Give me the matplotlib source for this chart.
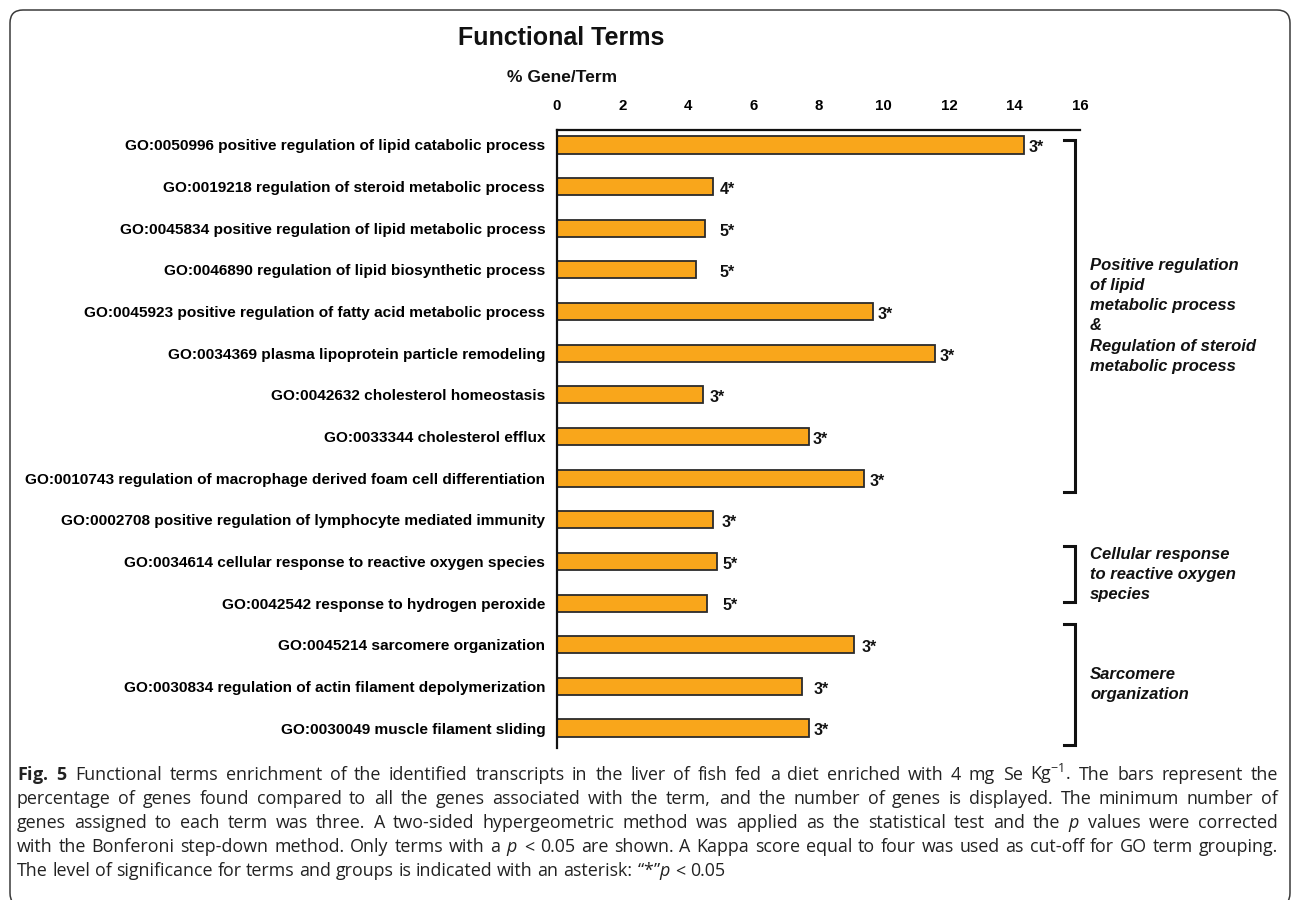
import numpy as np
import matplotlib
matplotlib.use("Agg")
import matplotlib.pyplot as plt
from matplotlib.lines import Line2D
from matplotlib.patches import FancyBboxPatch
from matplotlib import transforms

# ---------------- data ----------------
go_ids = [
    "GO:0050996", "GO:0019218", "GO:0045834", "GO:0046890", "GO:0045923",
    "GO:0034369", "GO:0042632", "GO:0033344", "GO:0010743", "GO:0002708",
    "GO:0034614", "GO:0042542", "GO:0045214", "GO:0030834", "GO:0030049",
]
term_names = [
    "positive regulation of lipid catabolic process",
    "regulation of steroid metabolic process",
    "positive regulation of lipid metabolic process",
    "regulation of lipid biosynthetic process",
    "positive regulation of fatty acid metabolic process",
    "plasma lipoprotein particle remodeling",
    "cholesterol homeostasis",
    "cholesterol efflux",
    "regulation of macrophage derived foam cell differentiation",
    "positive regulation of lymphocyte mediated immunity",
    "cellular response to reactive oxygen species",
    "response to hydrogen peroxide",
    "sarcomere organization",
    "regulation of actin filament depolymerization",
    "muscle filament sliding",
]
pct_genes = [14.29, 4.77, 4.53, 4.25, 9.68, 11.55, 4.48, 7.70, 9.38,
             4.77, 4.91, 4.60, 9.10, 7.51, 7.70]
gene_counts = [3, 4, 5, 5, 3, 3, 3, 3, 3, 3, 5, 5, 3, 3, 3]
x_ticks = [0, 2, 4, 6, 8, 10, 12, 14, 16]

# groups: (first term index, last term index, group name)
group_first = [0, 10, 12]
group_last = [8, 11, 14]
group_names = [
    "Positive regulation\nof lipid\nmetabolic process\n&\nRegulation of steroid\nmetabolic process",
    "Cellular response\nto reactive oxygen\nspecies",
    "Sarcomere\norganization",
]

caption_lines = [
    r"$\mathbf{Fig.}$ $\mathbf{5}$ Functional terms enrichment of the identified transcripts in the liver of fish fed a diet enriched with 4 mg Se Kg$^{-1}$. The bars represent the",
    "percentage of genes found compared to all the genes associated with the term, and the number of genes is displayed. The minimum number of",
    r"genes assigned to each term was three. A two-sided hypergeometric method was applied as the statistical test and the $\mathit{p}$ values were corrected",
    r"with the Bonferoni step-down method. Only terms with a $\mathit{p}$ < 0.05 are shown. A Kappa score equal to four was used as cut-off for GO term grouping.",
    r"The level of significance for terms and groups is indicated with an asterisk: “*”$\mathit{p}$ < 0.05",
]

# ---------------- style ----------------
plt.rcParams["font.family"] = ["Liberation Sans", "DejaVu Sans"]
plt.rcParams["mathtext.fontset"] = "custom"
plt.rcParams["mathtext.rm"] = "Open Sans"
plt.rcParams["mathtext.it"] = "Open Sans:italic"
plt.rcParams["mathtext.bf"] = "Open Sans:bold"

W, H = 1292, 900
fig = plt.figure(figsize=(W / 100, H / 100), dpi=100)
fig.patch.set_facecolor("white")
renderer = fig.canvas.get_renderer()


def fx(px):
    return px / W


def fy(py):
    return 1 - py / H


# rounded frame around the panel
frame = FancyBboxPatch((0.10, -0.06), 12.80, 8.96,
                       boxstyle="round,pad=0,rounding_size=0.13",
                       transform=fig.dpi_scale_trans, facecolor="none",
                       edgecolor="#3a3a3a", linewidth=1.1, zorder=0)
fig.patches.append(frame)

# ---------------- bar chart ----------------
ax = fig.add_axes([fx(557), fy(748), fx(1080) - fx(557), (748 - 130) / H])
ypos = np.arange(len(pct_genes))
ax.barh(ypos, pct_genes, height=0.41, color="#F9A61B",
        edgecolor="#2b2b2b", linewidth=1.3, zorder=2)
ax.set_xlim(0, 16)
ax.set_ylim(14.48, -0.36)

ax.xaxis.tick_top()
ax.set_xticks(x_ticks)
ax.set_xticklabels([str(t) for t in x_ticks], fontsize=10.8, fontweight="bold")
ax.tick_params(axis="x", length=0, pad=12.5)
labels = [f"{g} {t}" for g, t in zip(go_ids, term_names)]
ax.set_yticks(ypos)
ax.set_yticklabels(labels, fontsize=11.1, fontweight="bold")
ax.tick_params(axis="y", length=0, pad=8.5)

for side in ("right", "bottom"):
    ax.spines[side].set_visible(False)
for side in ("top", "left"):
    ax.spines[side].set_linewidth(1.6)
    ax.spines[side].set_color("#111111")

# gene-count annotations next to each bar
label_gap = [0.14, 0.20, 0.45, 0.73, 0.13, 0.16, 0.19, 0.11, 0.18,
             0.28, 0.15, 0.46, 0.21, 0.33, 0.14]
for i, (v, n) in enumerate(zip(pct_genes, gene_counts)):
    ax.text(v + label_gap[i], i + 0.07, f"{n}*", ha="left", va="center",
            fontsize=11.5, fontweight="bold", color="#111111")

# ---------------- group brackets ----------------
btrans = transforms.blended_transform_factory(fig.transFigure, ax.transData)
bracket_pad = [(0.12, 0.33), (0.37, -0.02), (0.50, 0.41)]
x_in, x_out = fx(1064), fx(1075)
for (i0, i1, name), (p0, p1) in zip(zip(group_first, group_last, group_names), bracket_pad):
    y0, y1 = i0 - p0, i1 + p1
    fig.lines.append(Line2D([x_in, x_out, x_out, x_in], [y0, y0, y1, y1],
                            transform=btrans, color="#111111", linewidth=2.2,
                            solid_joinstyle="miter"))
    fig.text(fx(1090), (y0 + y1) / 2, name, transform=btrans, ha="left",
             va="center", fontsize=12.0, fontweight="bold", fontstyle="italic",
             linespacing=1.42, color="#111111")

# ---------------- titles ----------------
fig.text(fx(561), fy(38), "Functional Terms", ha="center", va="center",
         fontsize=18, fontweight="bold", color="#111111")
fig.text(fx(562), fy(78), "% Gene/Term", ha="center", va="center",
         fontsize=12.5, fontweight="bold", color="#111111")

# ---------------- caption (justified) ----------------
cap_font = dict(fontsize=12.9, family=["Open Sans", "DejaVu Sans"],
                color="#222222", ha="left", va="baseline")
x_left, x_right = 17, 1278


def text_width(s):
    t = fig.text(0, 0, s, **cap_font)
    w = t.get_window_extent(renderer).width
    t.remove()
    return w


space_w = text_width("a a") - text_width("aa")

for k, line in enumerate(caption_lines):
    words = line.split(" ")
    widths = [text_width(w) for w in words]
    last = k == len(caption_lines) - 1
    if last or len(words) < 2:
        gap = space_w
    else:
        gap = (x_right - x_left - sum(widths)) / (len(words) - 1)
    x = x_left
    for w, wd in zip(words, widths):
        fig.text(fx(x), fy(780 + 24 * k), w, **cap_font)
        x += wd + gap

fig.savefig("out.png", dpi=100)
